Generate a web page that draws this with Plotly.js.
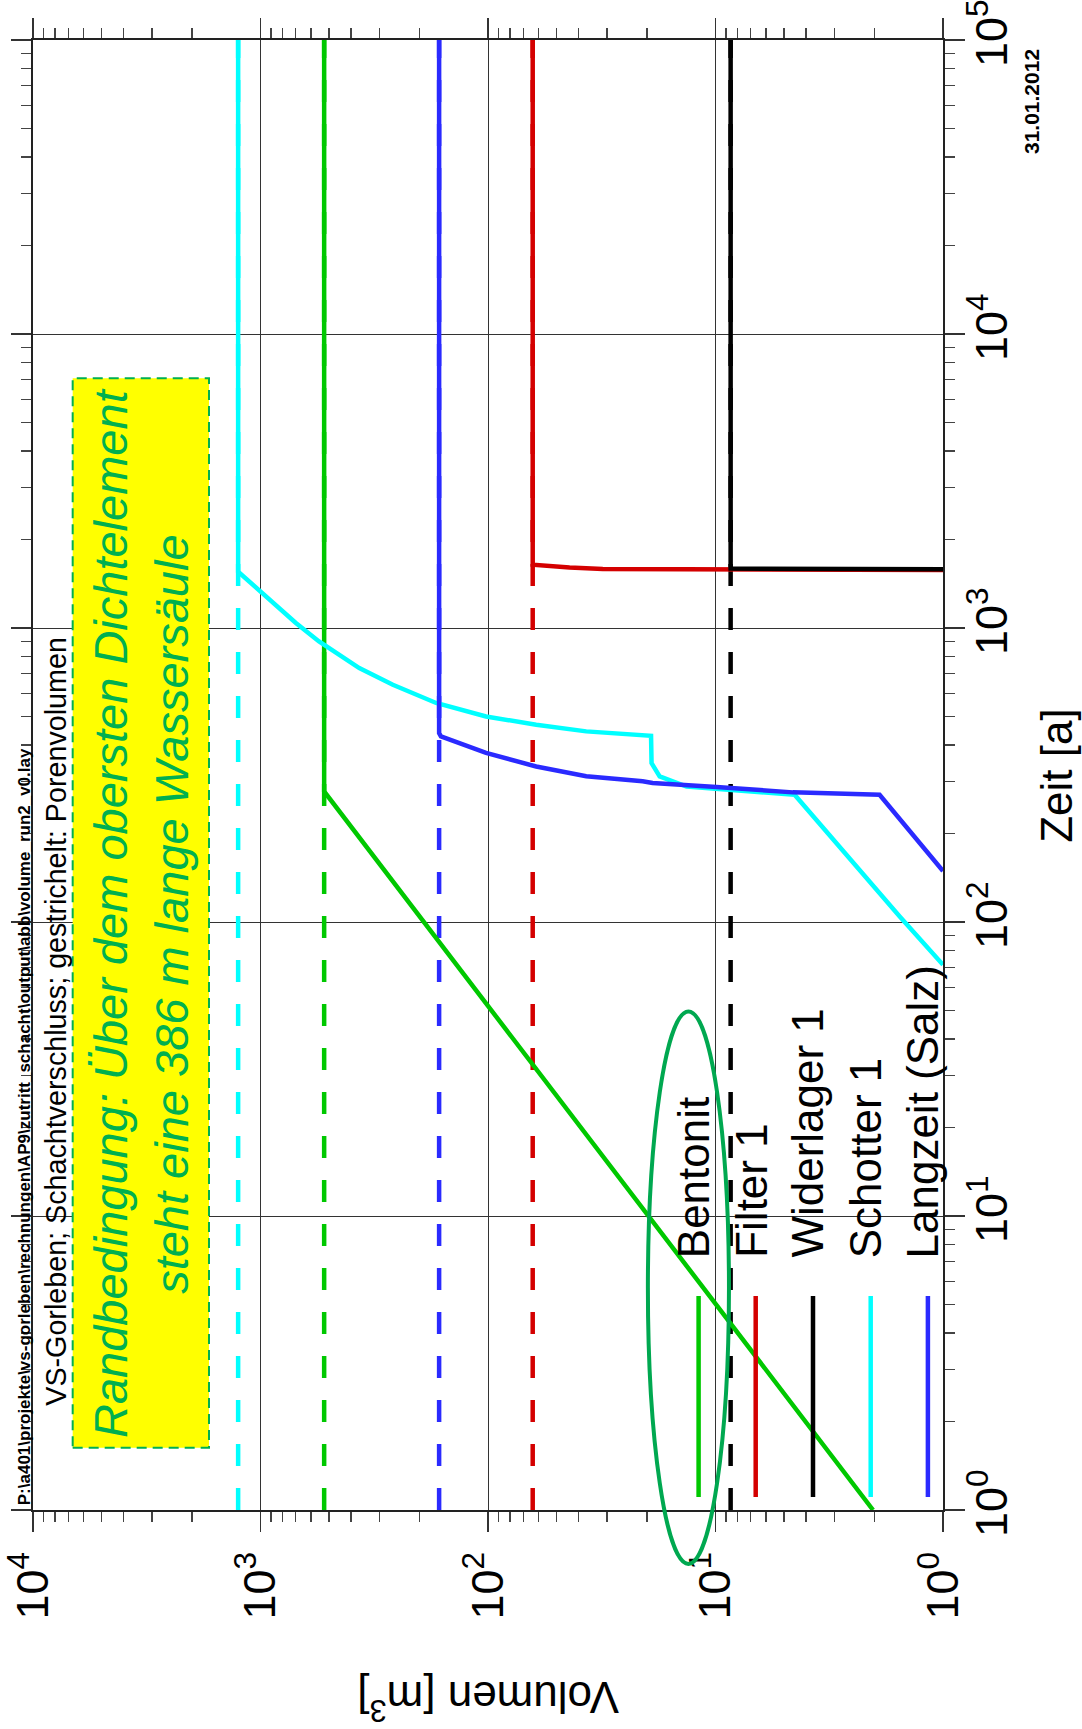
<!DOCTYPE html>
<html>
<head>
<meta charset="utf-8">
<script src="https://cdn.plot.ly/plotly-3.0.1.min.js"></script>
<style>
  html, body { margin: 0; padding: 0; background: #ffffff; }
</style>
</head>
<body>
<div id="chart" style="width:1082px;height:1729px;"></div>
<script>
// ---- data (time in years, volume in m^3) ----
const seriesNames = ['Bentonit', 'Filter 1', 'Widerlager 1', 'Schotter 1', 'Langzeit (Salz)'];
const seriesColors = ['#00c800', '#d40000', '#000000', '#00ffff', '#2a2aff'];

const bentonitT = [1, 278, 100000];
const bentonitV = [2.03, 525, 525];

const filterT = [1576, 1578, 1588, 1607, 1641, 100000];
const filterV = [1.0, 8.67, 31.3, 43.8, 63.6, 63.6];

const widerlagerT = [1585, 1592, 100000];
const widerlagerV = [1.0, 8.58, 8.58];

const schotterT = [71.5, 104.5, 271, 284, 289, 313, 347, 430, 445, 469, 500, 556, 641, 731, 900, 1040, 1333, 1554, 100000];
const schotterV = [1.0, 1.55, 4.49, 9.6, 13.4, 17.6, 19.1, 19.2, 37.0, 61.4, 102, 169, 262, 368, 553, 699, 1013, 1254, 1254];

const langzeitT = [149, 271, 276, 285.6, 288, 297, 301, 313, 338, 376, 428, 439, 100000];
const langzeitV = [1.0, 1.90, 4.57, 7.83, 9.9, 18.9, 20.9, 37.0, 61.4, 102, 161, 164, 164];

// pore volumes (dashed)
const poreT = [1, 100000];
const poreVolumes = [525, 63.6, 8.58, 1254, 164];

// ticks
const timeTicks = [1, 10, 100, 1000, 10000, 100000];
const timeTickText = ['10<sup>0</sup>', '10<sup>1</sup>', '10<sup>2</sup>', '10<sup>3</sup>', '10<sup>4</sup>', '10<sup>5</sup>'];
const volTicks = [1, 10, 100, 1000, 10000];
const volTickText = ['10<sup>0</sup>', '10<sup>1</sup>', '10<sup>2</sup>', '10<sup>3</sup>', '10<sup>4</sup>'];

const titleText = 'VS-Gorleben; Schachtverschluss; gestrichelt: Porenvolumen';
const fileText = 'P:\\a401\\projekte\\vs-gorleben\\rechnungen\\AP9\\zutritt_schacht\\output\\abb\\volume_run2_v0.lay';
const dateText = '31.01.2012';
const noteText = 'Randbedingung: Über dem obersten Dichtelement<br>steht eine 386 m lange Wassersäule';
const timeTitle = 'Zeit [a]';
const volTitle = 'Volumen [m<sup>3</sup>]';

// ---- build ----
function minorVals(d0, d1) {
  const out = [];
  for (let d = d0; d < d1; d++) for (let k = 2; k <= 9; k++) out.push(k * Math.pow(10, d));
  return out;
}

const FONT = 'Liberation Sans, Arial, sans-serif';
const LW = 4.5;
const solidT = [bentonitT, filterT, widerlagerT, schotterT, langzeitT];
const solidV = [bentonitV, filterV, widerlagerV, schotterV, langzeitV];

// the figure is drawn turned a quarter turn: volume runs across (reversed), time runs up
const traces = [];
seriesNames.forEach((n, i) => {
  traces.push({ y: poreT, x: [poreVolumes[i], poreVolumes[i]], mode: 'lines', name: n + ' Porenvolumen',
    line: { color: seriesColors[i], width: LW, dash: '22px,22px' }, showlegend: false, hoverinfo: 'skip' });
});
seriesNames.forEach((n, i) => {
  traces.push({ y: solidT[i], x: solidV[i], mode: 'lines', name: n,
    line: { color: seriesColors[i], width: LW }, showlegend: false });
});

const axisCommon = {
  type: 'log', showline: true, linecolor: '#222', linewidth: 2, mirror: 'ticks',
  ticks: 'outside', ticklen: 20, tickwidth: 1.5, tickcolor: '#333',
  showgrid: true, gridcolor: '#333', gridwidth: 1, zeroline: false,
  tickfont: { family: FONT, size: 45, color: '#000' },
  tickmode: 'array', tickangle: -90, ticklabeloverflow: 'allow'
};

const shapes = [];
const annotations = [];

// yellow note box
shapes.push({ type: 'rect', xref: 'paper', yref: 'paper', x0: 0.0436, x1: 0.1934, y0: 0.0424, y1: 0.7699,
  fillcolor: '#ffff00', line: { color: '#00b050', width: 2, dash: '10px,6px' }, layer: 'above' });
annotations.push({ xref: 'paper', yref: 'paper', x: 0.1185, y: 0.406, xanchor: 'center', yanchor: 'middle',
  text: noteText, showarrow: false, align: 'center', textangle: -90,
  font: { family: FONT, size: 47, color: '#00b050', style: 'italic' } });

// legend
const legLineX = [698.6, 755.7, 813.0, 870.7, 927.9].map(v => (v - 33) / 910);
const legY0 = 0.0088, legY1 = 0.1456, legTextY = 0.170, legTextShift = 5 / 910;
seriesNames.forEach((n, i) => {
  shapes.push({ type: 'line', xref: 'paper', yref: 'paper', x0: legLineX[i], x1: legLineX[i], y0: legY0, y1: legY1,
    line: { color: seriesColors[i], width: LW }, layer: 'above' });
  annotations.push({ xref: 'paper', yref: 'paper', x: legLineX[i] - legTextShift, y: legTextY, xanchor: 'center', yanchor: 'bottom',
    text: n, showarrow: false, textangle: -90, font: { family: FONT, size: 44, color: '#000' } });
});
// ellipse around Bentonit
shapes.push({ type: 'circle', xref: 'paper', yref: 'paper', x0: 0.6757, x1: 0.7648, y0: -0.0367, y1: 0.3392,
  line: { color: '#00a850', width: 4 }, layer: 'above' });

// title, file path, date
annotations.push({ xref: 'paper', yref: 'paper', x: 0.0244, y: 0.3323, xanchor: 'center', yanchor: 'middle',
  text: titleText, showarrow: false, textangle: -90, font: { family: FONT, size: 28.7, color: '#000' } });
annotations.push({ xref: 'paper', yref: 'paper', x: -0.0099, y: 0.0022, xanchor: 'center', yanchor: 'bottom',
  text: '<b>' + fileText + '</b>', showarrow: false, textangle: -90, font: { family: FONT, size: 17, color: '#000' } });
annotations.push({ xref: 'paper', yref: 'paper', x: 1.098, y: 0.995, xanchor: 'center', yanchor: 'top',
  text: '<b>' + dateText + '</b>', showarrow: false, textangle: -90, font: { family: FONT, size: 21, color: '#000' } });

// axis titles
annotations.push({ xref: 'paper', yref: 'paper', x: 0.5, y: -0.130, xanchor: 'center', yanchor: 'middle',
  text: volTitle, showarrow: false, textangle: 180, font: { family: FONT, size: 44, color: '#000' } });
annotations.push({ xref: 'paper', yref: 'paper', x: 1.124, y: 0.5, xanchor: 'center', yanchor: 'middle',
  text: timeTitle, showarrow: false, textangle: -90, font: { family: FONT, size: 44, color: '#000' } });

const layout = {
  width: 1082, height: 1729,
  margin: { l: 33, r: 139, t: 40, b: 219, pad: 0 },
  paper_bgcolor: '#ffffff', plot_bgcolor: '#ffffff',
  showlegend: false,
  font: { family: FONT, color: '#000' },
  xaxis: Object.assign({}, axisCommon, {
    range: [4, 0], tickvals: volTicks, ticktext: volTickText, side: 'bottom', ticklabelstandoff: 2,
    minor: { tickmode: 'array', tickvals: minorVals(0, 4), ticks: 'outside', ticklen: 10, tickwidth: 1.2, tickcolor: '#444', showgrid: false }
  }),
  yaxis: Object.assign({}, axisCommon, {
    range: [0, 5], tickvals: timeTicks, ticktext: timeTickText, side: 'right', ticklabelstandoff: -12,
    minor: { tickmode: 'array', tickvals: minorVals(0, 5), ticks: 'outside', ticklen: 10, tickwidth: 1.2, tickcolor: '#444', showgrid: false }
  }),
  shapes: shapes,
  annotations: annotations
};

Plotly.newPlot('chart', traces, layout, { displayModeBar: false, responsive: false, staticPlot: true });
</script>
</body>
</html>
